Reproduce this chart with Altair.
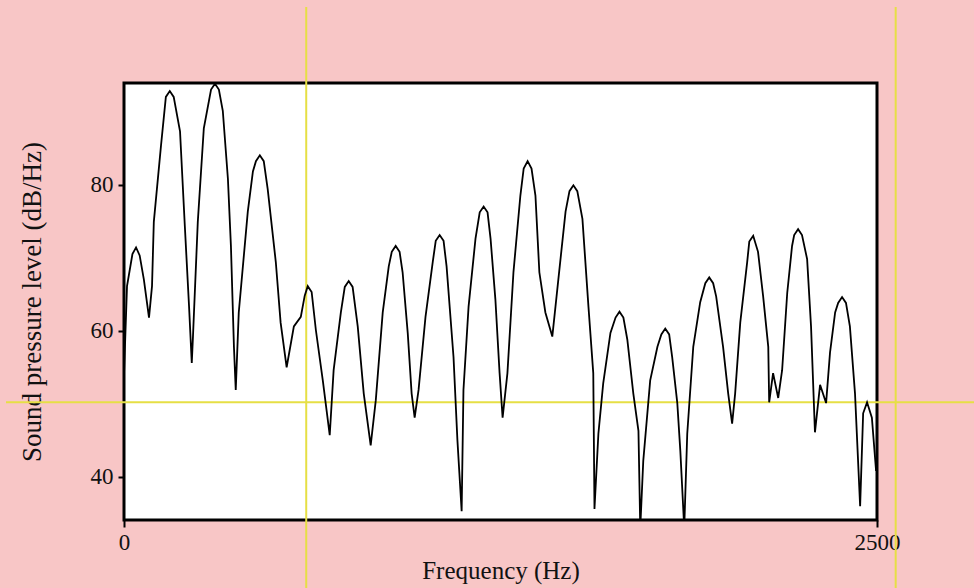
import altair as alt
import pandas as pd

# Spectrum trace (frequency in Hz, level in dB/Hz)
freq_hz = [0, 10, 28, 40, 52, 66, 83, 93, 99, 123, 139, 152, 165, 186, 202, 216, 225, 229,
           245, 265, 289, 302, 315, 328, 345, 355, 365, 371, 381, 411, 428, 438, 451, 464,
           477, 504, 520, 540, 564, 587, 600, 610, 623, 637, 660, 683, 696, 720, 733, 746,
           759, 776, 796, 819, 836, 859, 879, 889, 902, 915, 925, 942, 955, 965, 978, 1001,
           1025, 1035, 1048, 1061, 1071, 1094, 1107, 1121, 1127, 1144, 1167, 1181, 1194,
           1207, 1217, 1233, 1247, 1257, 1273, 1293, 1316, 1327, 1340, 1353, 1366, 1379,
           1399, 1422, 1442, 1466, 1479, 1492, 1505, 1522, 1542, 1558, 1562, 1575, 1591,
           1615, 1632, 1645, 1658, 1671, 1691, 1708, 1714, 1724, 1747, 1771, 1784, 1797,
           1810, 1820, 1837, 1847, 1860, 1870, 1890, 1913, 1930, 1943, 1956, 1966, 1989,
           2006, 2019, 2029, 2046, 2069, 2076, 2089, 2105, 2122, 2139, 2142, 2155, 2172,
           2185, 2202, 2218, 2225, 2238, 2251, 2268, 2281, 2294, 2311, 2331, 2344, 2361,
           2371, 2384, 2397, 2410, 2427, 2444, 2454, 2467, 2483, 2497]
level_db = [54.0, 66.1, 70.5, 71.4, 70.3, 67.0, 61.8, 66.1, 74.9, 85.4, 92.0, 92.8, 92.0,
            87.3, 74.3, 63.3, 55.6, 59.2, 74.9, 87.7, 93.0, 93.8, 93.0, 90.1, 80.8, 71.6,
            57.8, 51.9, 62.5, 76.3, 81.8, 83.2, 84.0, 83.2, 79.4, 69.4, 61.1, 55.0, 60.6,
            61.9, 64.8, 66.1, 65.3, 60.1, 53.2, 45.7, 54.6, 62.5, 66.0, 66.8, 66.0, 60.6,
            51.4, 44.3, 50.5, 62.5, 68.8, 70.8, 71.6, 70.8, 68.0, 59.7, 51.4, 48.1, 51.9,
            61.9, 69.4, 72.3, 73.1, 72.3, 68.8, 56.4, 45.0, 35.3, 51.9, 63.3, 72.6, 76.2,
            77.0, 76.2, 72.6, 64.3, 54.2, 48.1, 54.2, 68.0, 78.5, 82.2, 83.2, 82.2, 78.5,
            68.0, 62.5, 59.2, 67.0, 76.3, 79.1, 79.9, 79.1, 75.3, 63.3, 54.2, 35.6, 45.9,
            52.8, 59.7, 61.8, 62.6, 61.8, 58.8, 51.4, 46.3, 33.0, 42.2, 53.2, 57.8, 59.5,
            60.3, 59.5, 56.4, 50.1, 43.6, 33.0, 45.9, 57.8, 63.9, 66.5, 67.3, 66.5, 64.7,
            57.8, 51.4, 47.3, 51.4, 61.1, 69.4, 72.2, 73.0, 70.8, 64.7, 57.8, 50.2, 54.2,
            50.8, 54.6, 65.2, 71.6, 73.1, 73.9, 73.1, 69.8, 60.6, 46.1, 52.6, 50.1, 57.0,
            62.5, 63.8, 64.6, 63.8, 60.6, 51.4, 36.0, 48.7, 50.2, 48.1, 40.8]

# Cursor (crosshair) positions
cursor_hz = [605, 2562]
cursor_db = [50.2]

x_ticks = [0, 2500]
y_ticks = [40, 60, 80]
x_domain = [0, 2500]
y_domain = [34.1, 93.9]

df = pd.DataFrame({"f": freq_hz, "db": level_db})
cur_x = pd.DataFrame({"f": cursor_hz})
cur_y = pd.DataFrame({"db": cursor_db})

FONT = "Liberation Serif"
YELLOW = "#e6df45"

xscale = alt.Scale(domain=x_domain, nice=False, zero=False)
yscale = alt.Scale(domain=y_domain, nice=False, zero=False)

xaxis = alt.Axis(values=x_ticks, format="d", title="Frequency (Hz)", grid=False,
                 domain=False, tickSize=7, tickWidth=2, tickColor="black", labelPadding=4,
                 labelFont=FONT, labelFontSize=23, labelColor="#111",
                 titleFont=FONT, titleFontSize=25, titleFontWeight="normal",
                 titleColor="#111", titlePadding=4, labelFlush=False)
yaxis = alt.Axis(values=y_ticks, format="d", title="Sound pressure level (dB/Hz)",
                 grid=False, domain=False, tickSize=6, tickWidth=2, tickColor="black",
                 labelPadding=5, labelFont=FONT, labelFontSize=23, labelColor="#111",
                 titleFont=FONT, titleFontSize=27, titleFontWeight="normal",
                 titleColor="#111", titlePadding=44)

vlines = alt.Chart(cur_x).mark_rule(color=YELLOW, strokeWidth=2, clip=False).encode(
    x=alt.X("f:Q", scale=xscale, axis=xaxis),
    y=alt.value(-76), y2=alt.value(505))

hline = alt.Chart(cur_y).mark_rule(color=YELLOW, strokeWidth=2, clip=False).encode(
    y=alt.Y("db:Q", scale=yscale, axis=yaxis),
    x=alt.value(-118), x2=alt.value(851))

curve = alt.Chart(df).mark_line(color="black", strokeWidth=1.8, clip=True).encode(
    x=alt.X("f:Q", scale=xscale, axis=xaxis),
    y=alt.Y("db:Q", scale=yscale, axis=yaxis))

chart = alt.layer(vlines, hline, curve).properties(
    width=753, height=437,
    autosize=alt.AutoSizeParams(type="none"),
    padding={"left": 124, "top": 83, "right": 97, "bottom": 68},
    background="#f8c6c6",
).configure_view(fill="white", stroke="black", strokeWidth=3)

chart.save("out.html", embed_options={"renderer": "svg", "actions": False})
